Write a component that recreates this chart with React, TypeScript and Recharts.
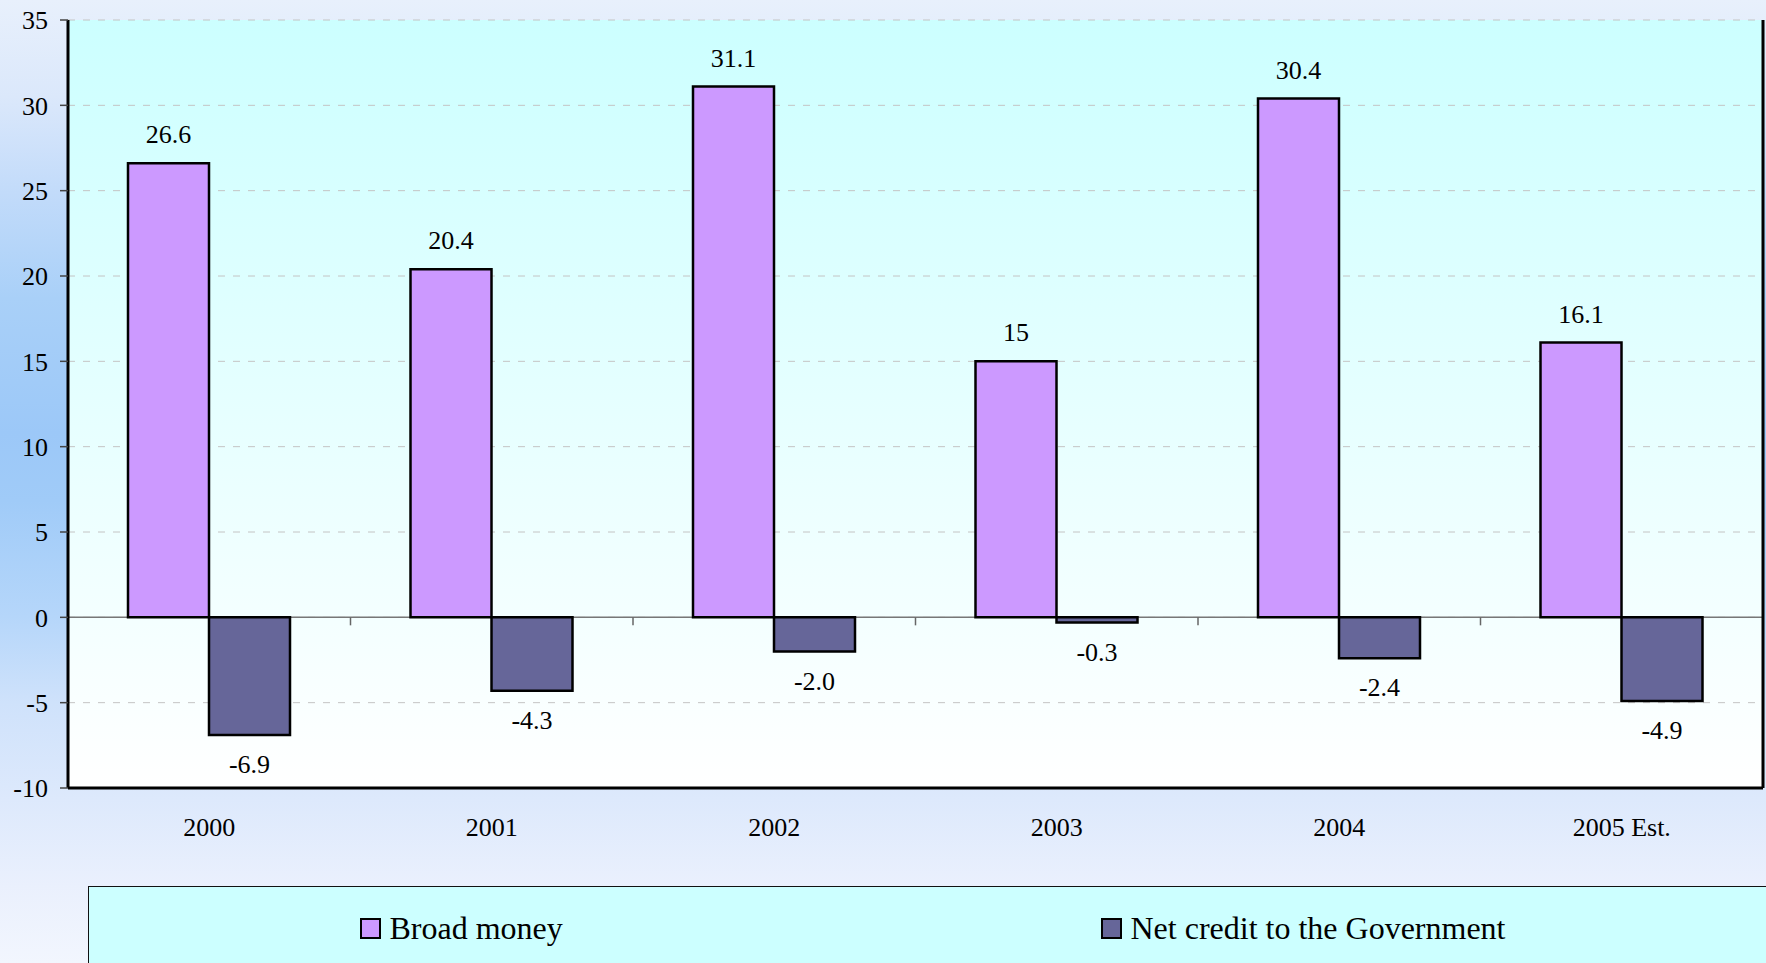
import React from "react";
import {
  BarChart,
  Bar,
  XAxis,
  YAxis,
  CartesianGrid,
  ReferenceLine,
  LabelList,
  Legend,
} from "recharts";

const years = ["2000", "2001", "2002", "2003", "2004", "2005 Est."];
const broadMoney = [26.6, 20.4, 31.1, 15, 30.4, 16.1];
const netCredit = [-6.9, -4.3, -2.0, -0.3, -2.4, -4.9];
const yTicks = [-10, -5, 0, 5, 10, 15, 20, 25, 30, 35];
const seriesNames = ["Broad money", "Net credit to the Government"];
const seriesColors = ["#cc99ff", "#666699"];

const data = years.map((y, i) => ({
  year: y,
  broad: broadMoney[i],
  net: netCredit[i],
}));

const FONT = '"Liberation Serif", "Times New Roman", serif';

const makeLabel = (fmt: (v: number) => string) => (p: any) => {
  const { x, y, width, height, value } = p;
  const v = Number(value);
  const top = Math.min(y, y + height);
  const bottom = Math.max(y, y + height);
  const cy = v >= 0 ? top - 29 : bottom + 29;
  return (
    <text
      x={x + width / 2}
      y={cy}
      dy="0.35em"
      textAnchor="middle"
      fontSize={26}
      fontFamily={FONT}
      fill="#000"
    >
      {fmt(v)}
    </text>
  );
};

const ZeroLine = (p: any) => {
  const { x1, x2, y1 } = p;
  const n = years.length;
  const step = (x2 - x1) / n;
  const ticks = [];
  for (let i = 1; i < n; i++) {
    const tx = x1 + step * i;
    ticks.push(
      <line key={i} x1={tx} x2={tx} y1={y1} y2={y1 + 8} stroke="#666" strokeWidth={1.5} />
    );
  }
  return (
    <g>
      <line x1={x1} x2={x2} y1={y1} y2={y1} stroke="#777" strokeWidth={1.5} />
      {ticks}
    </g>
  );
};

const LegendContent = (props: any) => {
  const payload = props.payload || [];
  const squareLefts = [271, 1012];
  const textLefts = [300.5, 1041.5];
  return (
    <div style={{ position: "relative", width: "100%", height: "100%" }}>
      {payload.map((e: any, i: number) => (
        <React.Fragment key={i}>
          <span
            style={{
              position: "absolute",
              left: squareLefts[i],
              top: 30.5,
              width: 21,
              height: 21,
              background: e.color,
              border: "2.5px solid #000",
              boxSizing: "border-box",
            }}
          />
          <span
            style={{
              position: "absolute",
              left: textLefts[i],
              top: 24.7,
              fontFamily: FONT,
              fontSize: 32,
              lineHeight: "32px",
              color: "#000",
              whiteSpace: "nowrap",
            }}
          >
            {e.value}
          </span>
        </React.Fragment>
      ))}
    </div>
  );
};

export default function App() {
  return (
    <div
      style={{
        position: "absolute",
        left: 0,
        top: 0,
        width: 1766,
        height: 963,
        overflow: "hidden",
        background:
          "linear-gradient(to bottom, #e8f0fc 0%, #dbe8fb 10%, #c2dbfa 20%, #a9d0f8 31%, #9cc8f8 45%, #a0cbf8 52%, #b5d6fa 64%, #cfe2fb 73%, #dde9fc 83%, #eaf0fd 92%, #f2f6fe 100%)",
      }}
    >
      <BarChart
        width={1766}
        height={963}
        data={data}
        margin={{ top: 20, right: 3, left: 8, bottom: 115 }}
        barGap={0}
        barSize={81}
      >
        <defs>
          <linearGradient id="plotBg" x1="0" y1="0" x2="0" y2="1">
            <stop offset="0%" stopColor="#ccffff" />
            <stop offset="100%" stopColor="#ffffff" />
          </linearGradient>
        </defs>
        <CartesianGrid
          vertical={false}
          stroke="#c4c4c4"
          strokeDasharray="7 8"
          fill="url(#plotBg)"
          fillOpacity={1}
        />
        <XAxis
          dataKey="year"
          axisLine={{ stroke: "#000", strokeWidth: 3 }}
          tickLine={false}
          tickSize={0}
          tickMargin={30}
          height={60}
          interval={0}
          tick={{ fontSize: 26, fontFamily: FONT, fill: "#000" }}
        />
        <XAxis
          xAxisId="top"
          orientation="top"
          dataKey="year"
          height={0}
          tick={false}
          tickLine={false}
          axisLine={{ stroke: "#000", strokeWidth: 3 }}
        />
        <YAxis
          domain={[-10, 35]}
          ticks={yTicks}
          interval={0}
          width={60}
          axisLine={{ stroke: "#000", strokeWidth: 3 }}
          tickLine={{ stroke: "#444", strokeWidth: 1.5 }}
          tickSize={8}
          tickMargin={12}
          tick={{ fontSize: 26, fontFamily: FONT, fill: "#000" }}
        />
        <YAxis
          yAxisId="right"
          orientation="right"
          domain={[-10, 35]}
          width={0}
          tick={false}
          tickLine={false}
          axisLine={{ stroke: "#000", strokeWidth: 3 }}
        />
        <ReferenceLine y={0} shape={ZeroLine} zIndex={-50} />
        <ReferenceLine
          x={years[years.length - 1]}
          position="end"
          stroke="#000"
          strokeWidth={3}
        />
        <Bar
          dataKey="broad"
          name={seriesNames[0]}
          fill={seriesColors[0]}
          stroke="#000"
          strokeWidth={2.5}
          isAnimationActive={false}
        >
          <LabelList dataKey="broad" content={makeLabel((v) => String(v))} />
        </Bar>
        <Bar
          dataKey="net"
          name={seriesNames[1]}
          fill={seriesColors[1]}
          stroke="#000"
          strokeWidth={2.5}
          isAnimationActive={false}
        >
          <LabelList dataKey="net" content={makeLabel((v) => v.toFixed(1))} />
        </Bar>
        <Legend
          layout="vertical"
          align="center"
          verticalAlign="middle"
          content={LegendContent}
          wrapperStyle={{
            position: "absolute",
            left: 88,
            top: 886,
            width: 1680,
            height: 80,
            background: "#ccffff",
            borderTop: "1.5px solid #111",
            borderLeft: "1.5px solid #111",
            boxSizing: "border-box",
          }}
        />
      </BarChart>
    </div>
  );
}
